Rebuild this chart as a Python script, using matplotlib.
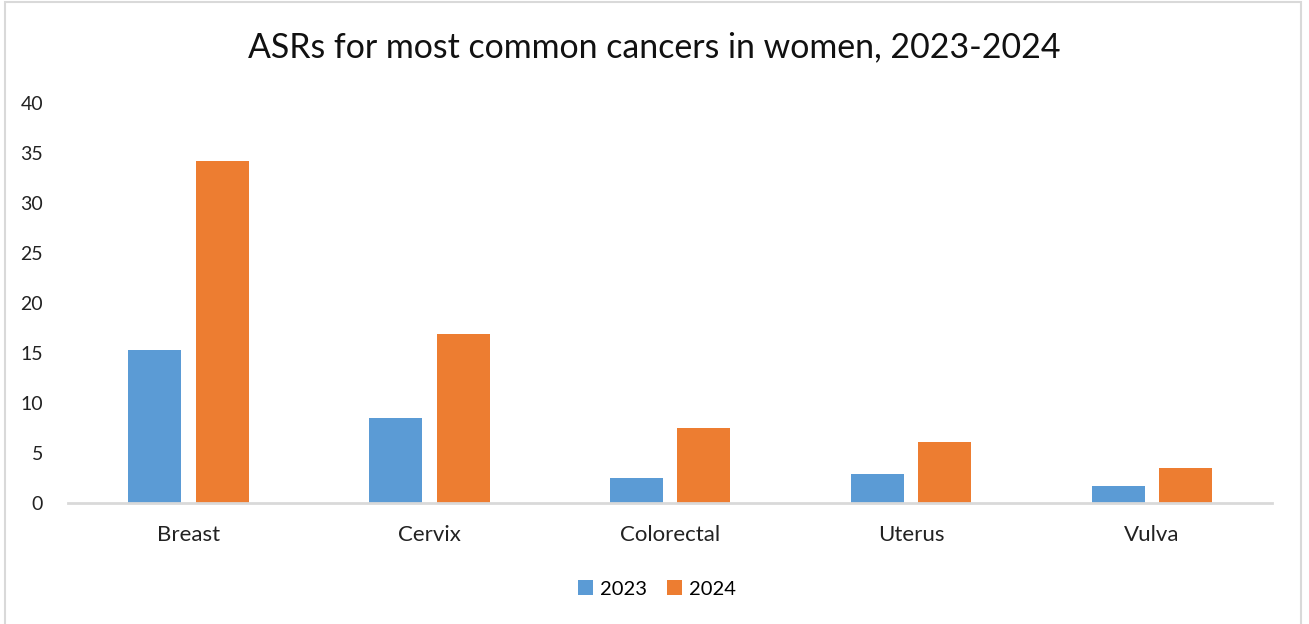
import matplotlib.pyplot as plt
import numpy as np
from matplotlib.patches import Rectangle

# data
categories = ["Breast", "Cervix", "Colorectal", "Uterus", "Vulva"]
asr_2023 = [15.3, 8.5, 2.5, 2.9, 1.7]
asr_2024 = [34.2, 16.9, 7.5, 6.1, 3.5]
series_names = ["2023", "2024"]

plt.rcParams['font.family'] = ['Lato', 'DejaVu Sans']

fig = plt.figure(figsize=(13.09, 6.24), dpi=100)
ax = fig.add_axes([0.052, 0.194, 0.920, 0.641])

x = np.arange(len(categories))
w = 0.22
ax.bar(x - 0.14, asr_2023, w, color="#5B9BD5", label=series_names[0])
ax.bar(x + 0.14, asr_2024, w, color="#ED7D31", label=series_names[1])

ax.set_xlim(-0.5, len(categories) - 0.5)
ax.set_ylim(0, 40)
ax.set_yticks(range(0, 41, 5))
ax.set_xticks(x)
ax.set_xticklabels(categories)
ax.tick_params(axis='both', length=0, colors="#222222")
ax.tick_params(axis='y', pad=18, labelsize=14)
ax.tick_params(axis='x', pad=16, labelsize=16)
for s in ["top", "right", "left"]:
    ax.spines[s].set_visible(False)
ax.spines["bottom"].set_color("#D9D9D9")
ax.spines["bottom"].set_linewidth(2)

fig.text(0.5, 0.924, "ASRs for most common cancers in women, 2023-2024",
         ha="center", va="center", fontsize=24.4, color="#111111")

fig.legend(loc="center", bbox_to_anchor=(0.502, 0.056), ncol=2, frameon=False,
           fontsize=14.5, handlelength=0.75, handleheight=0.75, handletextpad=0.35,
           columnspacing=1.0)

# light frame around the chart
fig.patches.append(Rectangle((5 / 1309, -0.05), 1296 / 1309, 1.046,
                             transform=fig.transFigure, fill=False,
                             edgecolor="#D9D9D9", linewidth=1.5))

fig.savefig("out.png", dpi=100)
